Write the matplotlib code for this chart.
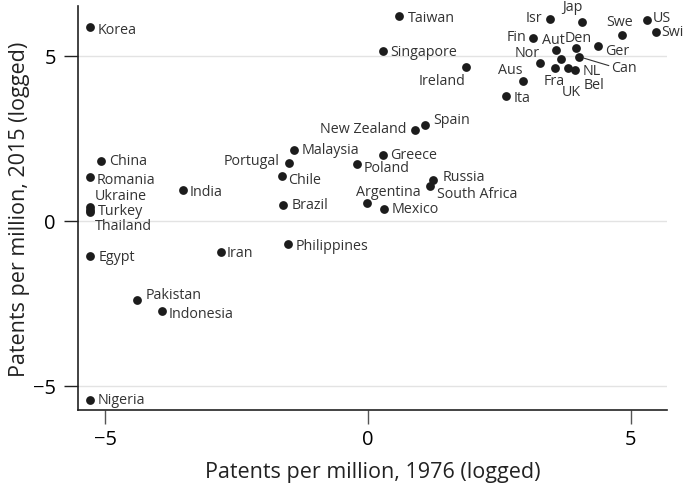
import matplotlib
matplotlib.use("Agg")
import matplotlib.pyplot as plt

plt.rcParams['font.family'] = ['Open Sans', 'DejaVu Sans']

# log patents per million, 1976 vs 2015
countries = ['Korea', 'Taiwan', 'Singapore', 'Ireland', 'Isr', 'Jap', 'Swe', 'US', 'Swi',
             'Fin', 'Aut', 'Den', 'Ger', 'Nor', 'Bel', 'Can', 'Fra', 'UK', 'NL', 'Aus', 'Ita',
             'Spain', 'New Zealand', 'Malaysia', 'Portugal', 'Chile', 'Greece', 'Poland',
             'Russia', 'South Africa', 'Argentina', 'Mexico', 'Brazil', 'China', 'Romania',
             'Ukraine', 'Turkey', 'Thailand', 'India', 'Egypt', 'Iran', 'Philippines',
             'Pakistan', 'Indonesia', 'Nigeria']
p1976 = [-5.30, 0.58, 0.28, 1.87, 3.46, 4.07, 4.83, 5.30, 5.47,
         3.14, 3.58, 3.96, 4.37, 3.28, 3.68, 4.01, 3.56, 3.81, 3.94, 2.95, 2.63,
         1.08, 0.89, -1.41, -1.51, -1.64, 0.28, -0.22,
         1.23, 1.17, -0.03, 0.30, -1.61, -5.08, -5.29,
         -5.30, -5.30, -5.30, -3.52, -5.29, -2.80, -1.53,
         -4.39, -3.92, -5.29]
p2015 = [5.88, 6.21, 5.15, 4.67, 6.12, 6.03, 5.61, 6.09, 5.73,
         5.52, 5.18, 5.24, 5.30, 4.79, 4.91, 4.97, 4.64, 4.64, 4.58, 4.24, 3.79,
         2.91, 2.76, 2.15, 1.76, 1.36, 2.00, 1.73,
         1.24, 1.06, 0.55, 0.36, 0.48, 1.82, 1.33,
         0.42, 0.33, 0.27, 0.94, -1.06, -0.94, -0.70,
         -2.39, -2.73, -5.42]

# label placement: offset in pixels and horizontal alignment
right = (8, 0, 'left')
label_pos = {
    'Korea': (8, -3, 'left'), 'Taiwan': (9, -2, 'left'), 'Singapore': (7, -1, 'left'),
    'Ireland': (-24, -14, 'center'), 'Isr': (-8, 1, 'right'), 'Jap': (-10, 15, 'center'),
    'Swe': (-2, 14, 'center'), 'US': (6, 2, 'left'), 'Swi': (6, 0, 'left'),
    'Fin': (-7, 2, 'right'), 'Aut': (-3, 10, 'center'), 'Den': (2, 10, 'center'),
    'Ger': (7, -5, 'left'), 'Nor': (-13, 10, 'center'), 'Bel': (33, -26, 'center'),
    'Can': (32, -11, 'left'), 'Fra': (-1, -13, 'center'), 'UK': (3, -24, 'center'),
    'NL': (17, -1, 'center'), 'Aus': (-13, 11, 'center'), 'Ita': (7, -2, 'left'),
    'Spain': (8, 5, 'left'), 'New Zealand': (-8, 1, 'right'), 'Portugal': (-9, 2, 'right'),
    'Chile': (6, -4, 'left'), 'Poland': (7, -4, 'left'), 'Greece': (7, 0, 'left'),
    'Russia': (10, 3, 'left'), 'South Africa': (7, -8, 'left'),
    'Argentina': (22, 11, 'center'), 'Romania': (7, -3, 'left'),
    'Ukraine': (5, 11, 'left'), 'Turkey': (8, -1, 'left'), 'Thailand': (5, -14, 'left'),
    'India': (7, -2, 'left'), 'Egypt': (9, -1, 'left'), 'Iran': (6, -1, 'left'),
    'Philippines': (8, -2, 'left'), 'Pakistan': (8, 5, 'left'), 'Indonesia': (7, -3, 'left'),
}

fig = plt.figure(figsize=(6.86, 4.89), dpi=100)
ax = fig.add_axes([0.1137, 0.1595, 0.858, 0.826])

ax.scatter(p1976, p2015, s=40, color='#1c1c1c', zorder=3, linewidths=0)

for name, x, y in zip(countries, p1976, p2015):
    dx, dy, ha = label_pos.get(name, right)
    ax.annotate(name, (x, y), xytext=(dx, dy), textcoords='offset pixels',
                ha=ha, va='center', fontsize=10.3, color='#333333',
                annotation_clip=False, zorder=4)

# leader line for Canada
i = countries.index('Can')
ax.annotate('', (p1976[i], p2015[i]), xytext=(30, -9), textcoords='offset pixels',
            arrowprops=dict(arrowstyle='-', color='#333333', lw=0.8, shrinkA=0, shrinkB=4))

ax.set_xlim(-5.52, 5.68)
ax.set_ylim(-5.73, 6.5)
ax.set_xticks([-5, 0, 5])
ax.set_yticks([-5, 0, 5])
ax.set_xticklabels(['\u22125', '0', '5'])
ax.set_yticklabels(['\u22125', '0', '5'])
ax.grid(axis='y', color='#e3e3e3', lw=1)
ax.set_axisbelow(True)

for s in ['top', 'right']:
    ax.spines[s].set_visible(False)
for s in ['left', 'bottom']:
    ax.spines[s].set_color('#222222')
    ax.spines[s].set_linewidth(1.2)

ax.tick_params(axis='y', length=10, width=1, color='#222222', labelsize=14.5, pad=6)
ax.tick_params(axis='x', length=10, width=1, color='#555555', labelsize=14.5, pad=4)

ax.set_xlabel('Patents per million, 1976 (logged)', fontsize=15.5, color='#222222', labelpad=8)
ax.set_ylabel('Patents per million, 2015 (logged)', fontsize=15.5, color='#222222', labelpad=2)

fig.savefig('out.png', dpi=100)
